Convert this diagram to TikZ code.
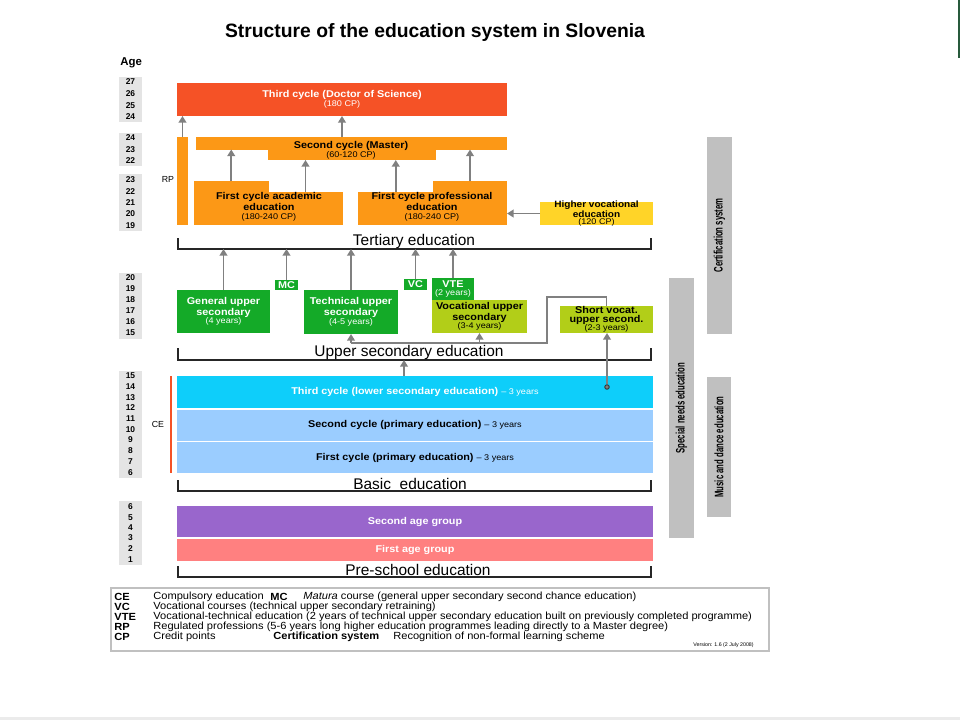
\documentclass[tikz,border=0pt]{standalone}
\usepackage{fontspec}
\setmainfont{Liberation Sans}
\usepackage{graphicx}
\usepackage{tikz}
\usetikzlibrary{arrows.meta,positioning,calc,fit}
\definecolor{phdcolor}{RGB}{245,82,38}
\definecolor{tercolor}{RGB}{252,152,22}
\definecolor{hvecolor}{RGB}{255,212,40}
\definecolor{gencolor}{RGB}{20,170,40}
\definecolor{voccolor}{RGB}{178,206,24}
\definecolor{cyancolor}{RGB}{14,206,250}
\definecolor{primcolor}{RGB}{155,205,255}
\definecolor{secagecolor}{RGB}{153,102,204}
\definecolor{firstagecolor}{RGB}{255,128,128}
\definecolor{barcolor}{RGB}{192,192,192}
\definecolor{arrcolor}{RGB}{128,128,128}
\definecolor{agebg}{RGB}{228,228,228}
\definecolor{edgegreen}{RGB}{40,90,60}
\newcommand{\wide}{\addfontfeature{FakeStretch=1.1}}
\newcommand{\cpfont}{\fontsize{4.7}{4.7}\selectfont\mdseries\wide}

\begin{document}
\begin{tikzpicture}[x=0.02cm,y=-0.02cm,
    area/.style={inner sep=0pt, outer sep=0pt},
    txt/.style={inner sep=0pt, outer sep=0pt, align=center,
      font={\fontsize{5.6}{4.9}\selectfont\bfseries\wide}},
    lab/.style={inner sep=0pt, font={\fontsize{5}{5}\selectfont}},
    arr/.style={arrcolor, line width=1.1pt, -{Triangle[width=4.4pt,length=3.8pt]}},
    link/.style={arrcolor, line width=0.8pt},
    bracket/.style={black!85, line width=0.7pt},
    brlabel/.style={inner sep=0pt, font={\fontsize{8.8}{8.8}\selectfont}},
    agenum/.style={inner sep=0pt, font={\fontsize{4.8}{4.8}\selectfont\bfseries}},
    sidebar/.style={fill=barcolor, inner sep=0pt, outer sep=0pt},
    sidetext/.style={rotate=90, inner sep=0pt, font={\fontsize{7}{7}\selectfont\bfseries}},
    legab/.style={anchor=west, inner sep=0pt, font={\fontsize{5.9}{5.9}\selectfont\bfseries\addfontfeature{FakeStretch=1.07}}},
    legtxt/.style={anchor=west, inner sep=0pt, font={\fontsize{5.9}{5.9}\selectfont\addfontfeature{FakeStretch=1.07}}}]
  \useasboundingbox (0,0) rectangle (960,720);
  \fill[white] (0,0) rectangle (960,720);
  \fill[edgegreen] (958,0) rectangle (960,58);
  \fill[black!8] (0,717) rectangle (960,720);

  % title and age column
  \node[inner sep=0pt, font={\fontsize{11}{11}\selectfont\bfseries}] (title) at (435,33) {Structure of the education system in Slovenia};
  \node[inner sep=0pt, anchor=west, font={\fontsize{6.5}{6.5}\selectfont\bfseries}] (agehead) at (120,63) {Age};
  \foreach \ya/\yb in {77/122,133/166,174/231,273/339,371/478,501/565}
    \fill[agebg] (119,\ya) rectangle (142,\yb);
  \foreach \a/\y [count=\k] in {27/82,26/94,25/106,24/117,24/138,23/150,22/161,
      23/180,22/192,21/203,20/214,19/226,20/278,19/289,18/300,17/311,16/322,15/333,
      15/376,14/387,13/398,12/408,11/419,10/430,9/440,8/451,7/462,6/473,
      6/507,5/518,4/528,3/538,2/549,1/560}
    \node[agenum] (age\k) at (130.5,\y) {\a};

  % tertiary
  \node[area, fill=phdcolor, fit={(177,83) (507,116)}] (phd) {};
  \node[txt, text=white] (phdtxt) at (phd.center) {Third cycle (Doctor of Science)\\{\cpfont (180 CP)}};
  \node[area, fill=tercolor, fit={(177,137) (188,225)}] (rp) {};
  \node[lab] (rplabel) at (168,179) {RP};
  \node[area, fill=tercolor, fit={(196,137) (507,149.5)}] (master) {};
  \node[area, fill=tercolor, fit={(268,149) (436,160)}] (masterlow) {};
  \node[txt] (mastertxt) at (351,150) {Second cycle (Master)\\{\cpfont (60-120 CP)}};
  \node[area, fill=tercolor, fit={(194,181) (268.5,225)}] (acadtall) {};
  \node[area, fill=tercolor, fit={(268,192) (343,225)}] (acadlow) {};
  \node[txt] (acadtxt) at (269,207) {First cycle academic\\education\\{\cpfont (180-240 CP)}};
  \node[area, fill=tercolor, fit={(358,192) (433.5,225)}] (proflow) {};
  \node[area, fill=tercolor, fit={(433,181) (507,225)}] (proftall) {};
  \node[txt] (proftxt) at (432,207) {First cycle professional\\education\\{\cpfont (180-240 CP)}};
  \node[area, fill=hvecolor, fit={(540,202) (653,225)}] (hve) {};
  \node[txt, font={\fontsize{5.2}{4.2}\selectfont\bfseries\wide}] (hvetxt) at (hve.center) {Higher vocational\\education\\{\cpfont (120 CP)}};
  \draw[arr] (rp.north) -- (rp.north |- phd.south);
  \draw[arr] (phd.south |- master.north) -- (phd.south);
  \draw[arr] (acadtall.north) -- (acadtall.north |- master.south);
  \draw[arr] (acadlow.north) -- (acadlow.north |- masterlow.south);
  \draw[arr] (proflow.north) -- (proflow.north |- masterlow.south);
  \draw[arr] (proftall.north) -- (proftall.north |- master.south);
  \draw[arr] (hve.west) -- (hve.west -| proftall.east);
  \draw[bracket] (178,238) |- (651,249) -- (651,238);
  \coordinate (terline) at (178,249);
  \node[brlabel] (tertlbl) at (414,241) {Tertiary education};

  % upper secondary
  \node[area, fill=gencolor, fit={(177,290) (270,333)}] (gen) {};
  \node[txt, text=white] (gentxt) at (gen.center) {General upper\\secondary\\{\cpfont (4 years)}};
  \node[area, fill=gencolor, fit={(275,280) (298,290)}] (mc) {};
  \node[txt, text=white] (mctxt) at (mc.center) {MC};
  \node[area, fill=gencolor, fit={(304,290) (398,334)}] (tech) {};
  \node[txt, text=white] (techtxt) at (tech.center) {Technical upper\\secondary\\{\cpfont (4-5 years)}};
  \node[area, fill=gencolor, fit={(404,279) (427,290)}] (vc) {};
  \node[txt, text=white] (vctxt) at (vc.center) {VC};
  \node[area, fill=gencolor, fit={(432,278) (474,300)}] (vte) {};
  \node[txt, text=white] (vtetxt) at (vte.center) {VTE\\{\cpfont (2 years)}};
  \node[area, fill=voccolor, fit={(432,300) (527,333)}] (voc) {};
  \node[txt] (voctxt) at (voc.center) {Vocational upper\\secondary\\{\cpfont (3-4 years)}};
  \node[area, fill=voccolor, fit={(560,306) (653,333)}] (svoc) {};
  \node[txt] (svoctxt) at (svoc.center) {Short vocat.\\upper second.\\{\cpfont (2-3 years)}};
  \draw[arr] (gen.north) -- (gen.north |- terline);
  \draw[arr] (mc.north) -- (mc.north |- terline);
  \draw[arr] (tech.north) -- (tech.north |- terline);
  \draw[arr] (vc.north) -- (vc.north |- terline);
  \draw[arr] (vte.north) -- (vte.north |- terline);
  \coordinate (jA) at (547,297);
  \coordinate (jB) at (547,343);
  \draw[link] (svoc.north) |- (jA) -- (jB) -- (jB -| tech.south);
  \draw[arr] (jB -| tech.south) -- (tech.south);
  \draw[arr] (jB -| voc.south) -- (voc.south);
  \draw[bracket] (178,348) |- (651,360) -- (651,348);
  \coordinate (usline) at (404,360);
  \node[brlabel] (uslbl) at (409,352) {Upper secondary education};

  % basic
  \node[area, fill=cyancolor, fit={(177,376) (653,408)}] (basic3) {};
  \node[txt, text=white] (basic3txt) at (basic3.center) {Third cycle (lower secondary education) {\cpfont -- 3 years}};
  \node[area, fill=primcolor, fit={(177,409.5) (653,440.5)}] (basic2) {};
  \node[txt] (basic2txt) at (basic2.center) {Second cycle (primary education) {\cpfont -- 3 years}};
  \node[area, fill=primcolor, fit={(177,442) (653,473)}] (basic1) {};
  \node[txt] (basic1txt) at (basic1.center) {First cycle (primary education) {\cpfont -- 3 years}};
  \draw[phdcolor, line width=1.6pt] (171,376) -- (171,473);
  \node[lab] (celabel) at (158,424) {CE};
  \draw[arr] (usline |- basic3.north) -- (usline);
  \node[circle, draw=black!80, fill=arrcolor, inner sep=0pt, minimum size=0.09cm, line width=0.5pt] (dot) at (607,387) {};
  \draw[arr] (dot.north) -- (dot.north |- svoc.south);
  \draw[bracket] (178,480) |- (651,491) -- (651,480);
  \node[brlabel] (basiclbl) at (410,484) {Basic\ \ education};

  % pre-school
  \node[area, fill=secagecolor, fit={(177,506) (653,537)}] (secage) {};
  \node[txt, text=white] (secagetxt) at (secage.center) {Second age group};
  \node[area, fill=firstagecolor, fit={(177,538.5) (653,561)}] (firstage) {};
  \node[txt, text=white] (firstagetxt) at (firstage.center) {First age group};
  \draw[bracket] (178,566) |- (651,577) -- (651,566);
  \node[brlabel] (prelbl) at (418,570) {Pre-school education};

  % side bars
  \node[sidebar, fit={(669,278) (694,538)}] (special) {};
  \node[sidetext] (specialtxt) at (special.center) {\scalebox{0.63}[1]{Special needs education}};
  \node[sidebar, fit={(707,137) (732,334)}] (cert) {};
  \node[sidetext] (certtxt) at (cert.center) {\scalebox{0.63}[1]{Certification\ system}};
  \node[sidebar, fit={(707,377) (731,517)}] (music) {};
  \node[sidetext] (musictxt) at (music.center) {\scalebox{0.63}[1]{Music and dance education}};

  % legend
  \node[draw=barcolor, line width=0.6pt, inner sep=0pt, fit={(111,588) (769,651)}] (legend) {};
  \node[legab] (lce) at (114,597) {CE};
  \node[legab] (lvc) at (114,607) {VC};
  \node[legab] (lvte) at (114,617) {VTE};
  \node[legab] (lrp) at (114,627) {RP};
  \node[legab] (lcp) at (114,637) {CP};
  \node[legtxt] (lcetxt) at (153,597) {Compulsory education};
  \node[legab] (lmc) at (270,597) {MC};
  \node[legtxt] (lmctxt) at (303,597) {\textit{Matura} course (general upper secondary second chance education)};
  \node[legtxt] (lvctxt) at (153,607) {Vocational courses (technical upper secondary retraining)};
  \node[legtxt] (lvtetxt) at (153,617) {Vocational-technical education (2 years of technical upper secondary education built on previously completed programme)};
  \node[legtxt] (lrptxt) at (153,627) {Regulated professions (5-6 years long higher education programmes leading directly to a Master degree)};
  \node[legtxt] (lcptxt) at (153,637) {Credit points};
  \node[legab] (lcert) at (273,637) {Certification system};
  \node[legtxt] (lcerttxt) at (393,637) {Recognition of non-formal learning scheme};
  \node[legtxt, anchor=east, font={\fontsize{3}{3}\selectfont}] (lver) at (754,645.5) {Version: 1.6 (2 July 2008)};
\end{tikzpicture}
\end{document}
